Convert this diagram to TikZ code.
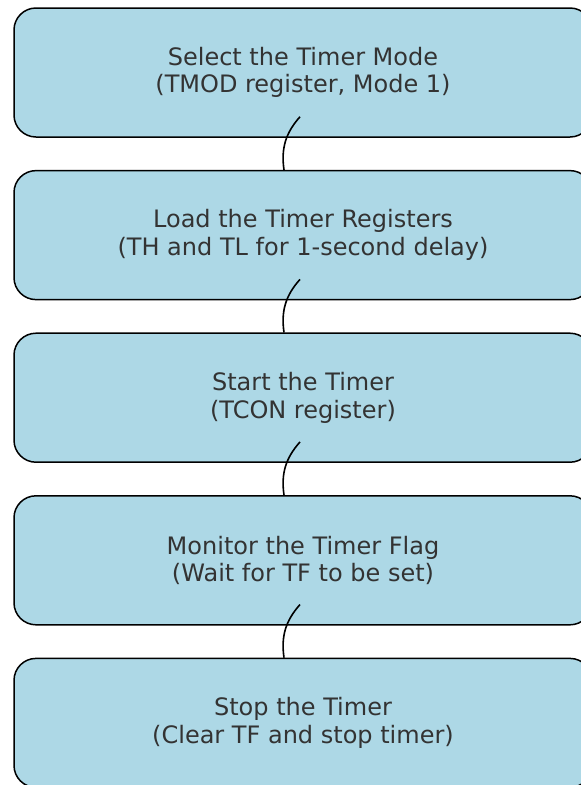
\documentclass[tikz,border=0pt]{standalone}
\usepackage{fontspec}
\setmainfont{DejaVu Sans}
\usepackage{xcolor}
\usetikzlibrary{positioning,calc}
\definecolor{bleuclair}{HTML}{ADD8E6}
\definecolor{gristexte}{HTML}{333333}

\begin{document}
\begin{tikzpicture}[
  x=1pt, y=1pt,
  node distance = 32.1pt,
  etape/.style = {draw, line width=1.5pt, fill=bleuclair, rounded corners=22pt,
                  minimum width=578pt, minimum height=129pt, align=center,
                  text=gristexte, font=\fontsize{24}{27.5}\selectfont},
  lien/.style  = {line width=1.6pt}
]
\useasboundingbox (0,0) rectangle (581,-785);
\node[etape] (a) at (303,-72.5) {Select the Timer Mode\\(TMOD register, Mode 1)};
\node[etape, below=of a] (b) {Load the Timer Registers\\(TH and TL for 1-second delay)};
\node[etape, below=of b] (c) {Start the Timer\\(TCON register)};
\node[etape, below=of c] (d) {Monitor the Timer Flag\\(Wait for TF to be set)};
\node[etape, below=of d] (e) {Stop the Timer\\(Clear TF and stop timer)};
\draw[lien] ($(a.south)+(-3,21)$) to[bend right=25] ($(b.north)+(-19,0)$);
\draw[lien] ($(b.south)+(-3,21)$) to[bend right=25] ($(c.north)+(-19,0)$);
\draw[lien] ($(c.south)+(-3,21)$) to[bend right=25] ($(d.north)+(-19,0)$);
\draw[lien] ($(d.south)+(-3,21)$) to[bend right=25] ($(e.north)+(-19,0)$);
\end{tikzpicture}
\end{document}
